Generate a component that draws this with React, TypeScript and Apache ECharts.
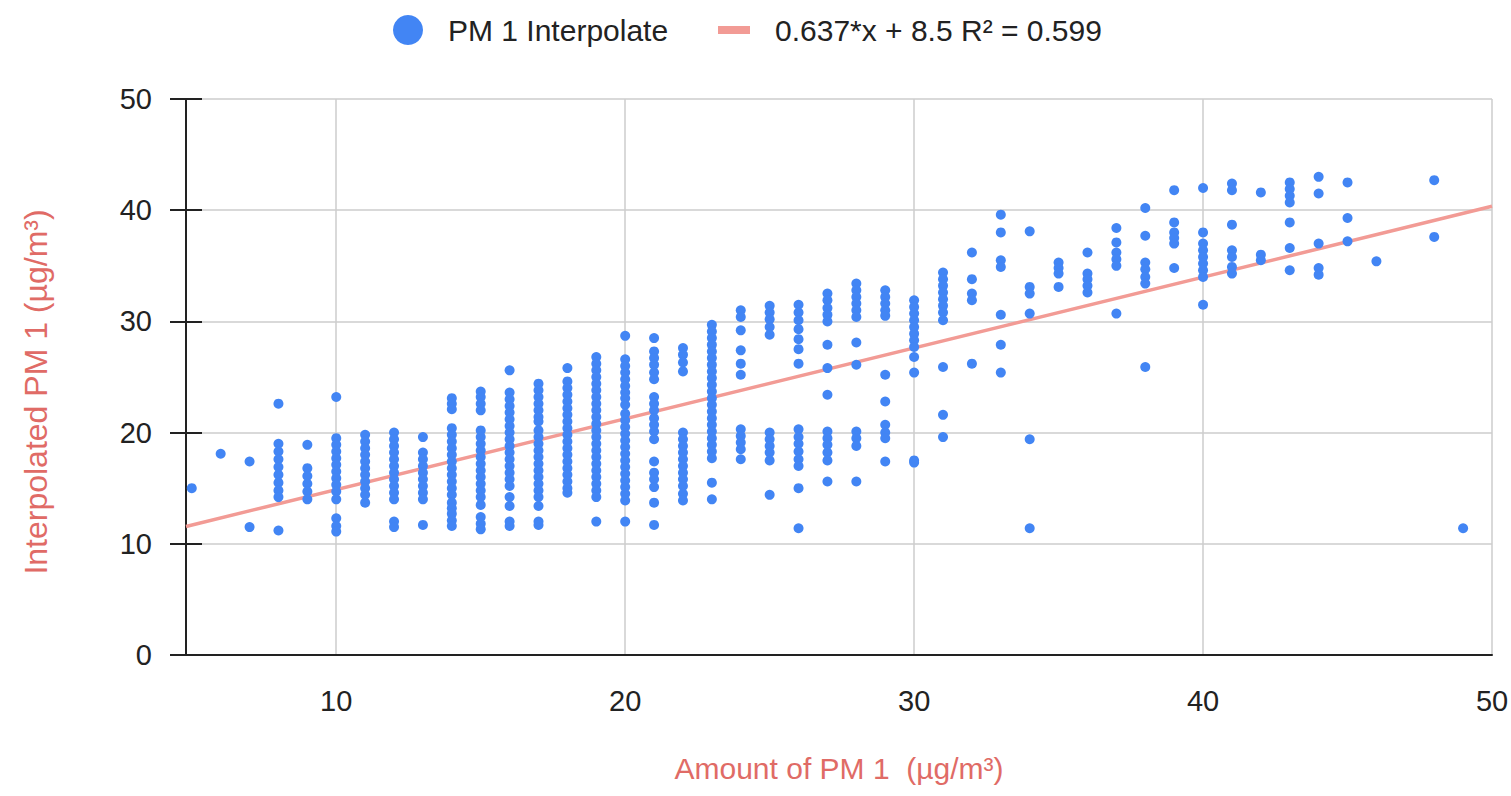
import React, { useEffect, useRef } from "react";
import * as echarts from "echarts";

// Measured amount of PM 1 (µg/m³) and the interpolated readings at each amount
const amountValues: number[] = [
  5, 6, 7, 8, 9, 10, 11, 12, 13, 14, 15, 16, 17, 18, 19, 20, 21, 22, 23, 24, 25, 26, 27,
  28, 29, 30, 31, 32, 33, 34, 35, 36, 37, 38, 39, 40, 41, 42, 43, 44, 45, 46, 48, 49,
];

const interpolatedValues: number[][] = [
  [15.0],
  [18.1],
  [17.4, 11.5],
  [22.6, 19.0, 18.3, 17.6, 16.9, 16.2, 15.5, 14.8, 14.2, 11.2],
  [18.9, 16.8, 16.1, 15.4, 14.7, 14.0],
  [23.2, 19.5, 18.9, 18.3, 17.7, 17.1, 16.5, 15.9, 15.3, 14.7, 14.0, 12.3, 11.6, 11.1],
  [19.8, 19.2, 18.6, 18.0, 17.4, 16.8, 16.2, 15.6, 15.0, 14.4, 13.7],
  [20.0, 19.4, 18.8, 18.2, 17.6, 17.0, 16.4, 15.8, 15.2, 14.6, 14.0, 12.0, 11.5],
  [19.6, 18.2, 17.6, 17.0, 16.4, 15.8, 15.2, 14.6, 14.0, 11.7],
  [23.1, 22.6, 22.1, 20.4, 19.8, 19.2, 18.6, 18.0, 17.4, 16.8, 16.2, 15.6, 15.0, 14.4, 13.7, 13.2, 12.7, 12.1, 11.6],
  [23.7, 23.2, 22.6, 22.0, 20.2, 19.6, 19.0, 18.4, 17.8, 17.2, 16.6, 16.0, 15.4, 14.8, 14.2, 13.5, 12.4, 11.8, 11.3],
  [25.6, 23.6, 23.0, 22.4, 21.8, 21.2, 20.6, 20.0, 19.4, 18.8, 18.2, 17.6, 17.0, 16.4, 15.8, 15.2, 14.2, 13.4, 12.0, 11.6],
  [24.4, 23.8, 23.2, 22.6, 22.0, 21.4, 21.0, 20.2, 19.6, 19.0, 18.4, 17.8, 17.2, 16.6, 16.0, 15.4, 14.8, 14.2, 13.4, 12.0, 11.7],
  [25.8, 24.6, 24.0, 23.4, 22.8, 22.2, 21.6, 21.0, 20.4, 19.8, 19.2, 18.6, 18.0, 17.4, 16.8, 16.2, 15.6, 15.0, 14.6],
  [26.8, 26.2, 25.6, 25.0, 24.4, 23.8, 23.2, 22.6, 22.0, 21.4, 20.8, 20.2, 19.6, 19.0, 18.4, 17.8, 17.2, 16.6, 16.0, 15.4, 14.8, 14.2, 12.0],
  [28.7, 26.6, 26.0, 25.4, 24.8, 24.2, 23.6, 23.1, 22.5, 21.7, 21.1, 20.5, 19.9, 19.3, 18.7, 18.1, 17.5, 16.9, 16.3, 15.7, 15.1, 14.5, 13.9, 12.0],
  [28.5, 27.3, 26.7, 26.1, 25.4, 24.8, 23.2, 22.6, 22.0, 21.3, 20.7, 20.1, 19.4, 17.4, 16.4, 15.8, 15.1, 13.7, 11.7],
  [27.6, 27.0, 26.3, 25.5, 20.0, 19.4, 18.8, 18.2, 17.6, 17.0, 16.4, 15.8, 15.2, 14.5, 13.9],
  [29.7, 29.1, 28.5, 27.9, 27.3, 26.7, 26.1, 25.5, 24.9, 24.3, 23.7, 23.1, 22.5, 21.9, 21.3, 20.7, 20.1, 19.5, 18.9, 18.3, 17.7, 15.5, 14.0],
  [31.0, 30.4, 29.2, 27.4, 26.2, 25.2, 20.3, 19.7, 19.1, 18.5, 17.6],
  [31.4, 30.8, 30.2, 29.5, 28.8, 20.0, 19.4, 18.8, 18.2, 17.5, 14.4],
  [31.5, 30.8, 30.1, 29.3, 28.4, 27.5, 26.2, 20.3, 19.6, 19.0, 18.3, 17.6, 17.0, 15.0, 11.4],
  [32.5, 31.9, 31.2, 30.6, 30.0, 27.9, 25.8, 23.4, 20.1, 19.5, 18.9, 18.2, 17.5, 15.6],
  [33.4, 32.8, 32.2, 31.6, 31.0, 30.4, 28.1, 26.1, 20.1, 19.5, 18.8, 15.6],
  [32.8, 32.2, 31.6, 31.0, 30.5, 25.2, 22.8, 20.7, 20.0, 19.5, 17.4],
  [31.9, 31.3, 30.7, 30.1, 29.5, 28.9, 28.3, 27.7, 26.8, 25.4, 17.5, 17.3],
  [34.4, 33.8, 33.2, 32.6, 32.0, 31.4, 30.8, 30.1, 25.9, 21.6, 19.6],
  [36.2, 33.8, 32.5, 31.9, 26.2],
  [39.6, 38.0, 35.5, 34.9, 30.6, 27.9, 25.4],
  [38.1, 33.1, 32.5, 30.7, 19.4, 11.4],
  [35.3, 34.8, 34.3, 33.1],
  [36.2, 34.3, 33.8, 33.2, 32.6],
  [38.4, 37.1, 36.2, 35.6, 35.0, 30.7],
  [40.2, 37.7, 35.3, 34.7, 34.0, 33.4, 25.9],
  [41.8, 38.9, 38.0, 37.5, 37.0, 34.8],
  [42.0, 38.0, 37.0, 36.4, 35.8, 35.2, 34.6, 34.0, 31.5],
  [42.4, 41.8, 38.7, 36.4, 35.8, 34.9, 34.3],
  [41.6, 36.0, 35.5],
  [42.5, 41.9, 41.3, 40.7, 38.9, 36.6, 34.6],
  [43.0, 41.5, 37.0, 34.8, 34.2],
  [42.5, 39.3, 37.2],
  [35.4],
  [42.7, 37.6],
  [11.4],
];

// Linear trendline stated in the legend
const trendSlope = 0.637;
const trendIntercept = 8.5;
const trendLabel = "0.637*x + 8.5 R² = 0.599";
const scatterLabel = "PM 1 Interpolate";

const xMin = 4.8;
const xMax = 50;
const xTickValues = [10, 20, 30, 40, 50];
const yTickValues = [0, 10, 20, 30, 40, 50];

const xTitle = "Amount of PM 1  (µg/m³)";
const yTitle = "Interpolated PM 1 (µg/m³)";

const FONT = "'Liberation Sans', Arial, sans-serif";
const TITLE_COLOR = "#e06b66";
const TEXT_COLOR = "#222222";

export default function App() {
  const ref = useRef<HTMLDivElement>(null);

  useEffect(() => {
    if (!ref.current) return;
    const chart = echarts.init(ref.current, undefined, { renderer: "svg" });

    const points: [number, number][] = [];
    amountValues.forEach((x, i) => {
      interpolatedValues[i].forEach((y) => points.push([x, y]));
    });
    const trend: [number, number][] = [
      [xMin, trendSlope * xMin + trendIntercept],
      [xMax, trendSlope * xMax + trendIntercept],
    ];

    chart.setOption({
      animation: false,
      backgroundColor: "#ffffff",
      textStyle: { fontFamily: FONT },
      grid: {
        left: 186,
        right: 19,
        top: 99,
        bottom: 141,
        containLabel: false,
        outerBoundsMode: "none",
      },
      legend: [
        {
          left: 388,
          top: 10,
          itemWidth: 30,
          itemHeight: 30,
          symbolKeepAspect: true,
          data: [{ name: scatterLabel, icon: "circle" }],
          textStyle: {
            fontSize: 30,
            color: TEXT_COLOR,
            fontFamily: FONT,
            padding: [0, 0, 0, 20],
          },
        },
        {
          left: 713,
          top: 10,
          itemWidth: 32,
          itemHeight: 8,
          data: [{ name: trendLabel, icon: "rect" }],
          textStyle: {
            fontSize: 30,
            color: TEXT_COLOR,
            fontFamily: FONT,
            padding: [0, 0, 0, 20],
          },
        },
      ],
      xAxis: {
        type: "value",
        min: xMin,
        max: xMax,
        name: xTitle,
        nameLocation: "middle",
        nameGap: 98,
        nameTextStyle: { color: TITLE_COLOR, fontSize: 30, fontFamily: FONT },
        axisLine: { show: true, onZero: false, lineStyle: { color: TEXT_COLOR, width: 2 } },
        axisTick: { show: false, customValues: xTickValues },
        axisLabel: {
          customValues: xTickValues,
          color: TEXT_COLOR,
          fontSize: 29,
          margin: 31,
          fontFamily: FONT,
        },
        splitLine: { show: true, lineStyle: { color: "#cccccc", width: 1.5 } },
      },
      yAxis: [
        {
          type: "value",
          min: 0,
          max: 50,
          interval: 10,
          name: yTitle,
          nameLocation: "middle",
          nameGap: 134,
          nameTextStyle: {
            color: TITLE_COLOR,
            fontSize: 32,
            fontFamily: FONT,
            padding: [0, 30, 0, 0],
          },
          axisLine: { show: true, lineStyle: { color: TEXT_COLOR, width: 2 } },
          axisTick: { show: true, length: 16, lineStyle: { color: TEXT_COLOR, width: 2 } },
          axisLabel: {
            customValues: yTickValues,
            color: TEXT_COLOR,
            fontSize: 29,
            margin: 34,
            fontFamily: FONT,
          },
          splitLine: { show: true, lineStyle: { color: "#cccccc", width: 1.5 } },
        },
        {
          type: "value",
          position: "left",
          offset: 0,
          min: 0,
          max: 50,
          interval: 10,
          axisLine: { show: false },
          axisTick: {
            show: true,
            inside: true,
            length: 16,
            lineStyle: { color: TEXT_COLOR, width: 2 },
          },
          axisLabel: { show: false },
          splitLine: { show: false },
        },
      ],
      series: [
        {
          name: scatterLabel,
          type: "scatter",
          data: points,
          symbolSize: 10,
          itemStyle: { color: "#4285f4", opacity: 1 },
          z: 3,
        },
        {
          name: trendLabel,
          type: "line",
          data: trend,
          showSymbol: false,
          symbol: "none",
          lineStyle: { color: "#f29b95", width: 3.5 },
          itemStyle: { color: "#f29b95" },
          z: 2,
        },
      ],
    });

    return () => chart.dispose();
  }, []);

  return (
    <div
      ref={ref}
      style={{ position: "absolute", left: 0, top: 0, width: 1511, height: 796, background: "#fff" }}
    />
  );
}
